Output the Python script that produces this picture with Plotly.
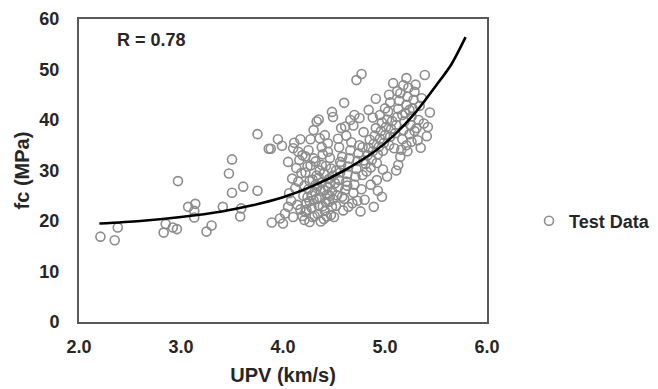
import plotly.graph_objects as go

# Test data (UPV km/s, fc MPa)
upv = [2.21,2.35,2.38,2.83,2.85,2.92,2.96,2.97,3.07,3.14,3.13,3.13,3.25,3.30,3.41,3.50,3.47,3.50,3.59,3.58,3.61,3.75,3.75,3.86,3.88,3.89,
       3.95,3.99,3.97,4.00,4.05,4.10,4.15,4.17,4.16,4.05,4.02,4.08,4.10,4.12,4.14,4.06,4.18,4.19,4.20,4.15,4.13,4.09,4.17,4.19,4.11,
       4.21,4.22,4.23,4.24,4.25,4.26,4.22,4.27,4.28,4.29,4.30,4.31,4.32,4.33,4.30,4.33,4.35,4.34,4.35,4.36,4.37,4.38,4.36,4.39,4.40,4.41,4.42,4.43,4.44,4.45,4.42,4.46,4.47,4.48,4.49,4.48,4.46,4.49,4.48,4.49,4.44,4.41,4.38,4.25,4.27,4.23,4.26,4.31,4.37,4.43,4.28,4.34,4.40,4.45,4.32,4.21,4.24,4.39,4.47,4.35,4.29,4.41,4.46,4.33,4.26,4.38,4.44,4.36,4.30,4.22,
       4.50,4.52,4.53,4.54,4.55,4.56,4.57,4.58,4.57,4.61,4.60,4.59,4.60,4.61,4.62,4.63,4.64,4.65,4.66,4.67,4.62,4.68,4.69,4.70,4.71,4.72,4.73,4.74,4.75,4.72,4.77,4.76,4.77,4.78,4.79,4.78,4.79,4.70,4.66,4.55,4.52,4.51,4.58,4.64,4.73,4.54,4.69,4.75,4.63,4.56,
       4.80,4.89,4.97,4.92,5.13,4.82,4.81,4.83,4.84,4.85,4.86,4.87,4.88,4.89,4.90,4.91,4.92,4.93,4.94,4.95,4.96,4.97,4.98,4.99,5.00,5.01,5.02,5.03,5.04,5.05,5.06,5.07,5.08,5.05,5.00,4.95,4.88,4.84,4.98,5.02,4.86,4.93,5.09,4.91,5.04,
       5.10,5.11,5.12,5.13,5.14,5.15,5.16,5.17,5.18,5.19,5.20,5.21,5.22,5.21,5.21,5.26,5.23,5.24,5.25,5.26,5.27,5.28,5.29,5.30,5.31,5.32,5.33,5.34,5.35,5.38,5.39,5.36,5.18,5.12,5.15,5.22,5.29,5.11,5.24,5.17,5.42,5.44,5.41]
fc = [16.9,16.2,18.7,17.7,19.4,18.7,18.4,27.9,22.8,23.4,20.7,22.0,17.9,19.1,22.8,32.2,29.4,25.6,22.5,20.9,26.8,37.2,26.0,34.3,34.3,19.7,
      36.2,34.9,20.5,19.5,31.7,34.4,33.7,36.2,32.1,22.8,21.5,24.0,20.8,26.5,23.2,25.5,29.5,21.0,25.0,27.8,30.5,28.4,22.3,33.0,35.5,
      20.2,21.8,23.5,24.7,26.3,27.9,29.6,31.0,22.6,20.8,24.1,25.8,27.2,29.0,32.4,39.7,40.1,21.4,23.0,24.6,26.0,27.6,30.0,33.2,20.4,22.0,23.7,25.2,26.8,28.3,30.9,32.5,21.2,22.8,24.3,25.9,27.4,29.0,41.6,40.6,35.4,37.0,34.6,34.0,36.2,22.2,19.8,21.0,19.9,20.9,25.1,26.9,29.4,23.8,31.8,27.0,30.8,22.9,30.4,28.6,28.2,26.1,25.0,24.4,23.9,31.1,33.7,36.4,38.0,32.8,
      20.8,23.0,25.1,26.7,28.1,29.6,31.2,32.7,38.4,38.7,43.4,22.1,24.4,26.2,27.8,29.3,30.8,32.4,34.0,35.6,36.9,23.5,25.6,27.2,28.8,30.3,31.9,33.4,35.0,47.9,49.1,21.9,26.3,29.1,32.0,34.6,37.6,41.0,40.0,34.6,30.0,27.5,24.8,22.8,24.0,36.3,38.9,40.4,27.0,31.7,
      24.2,22.8,24.8,28.1,31.1,29.8,31.3,33.0,34.5,36.1,30.6,32.1,33.8,35.3,36.9,38.4,31.5,33.2,34.7,36.3,37.8,39.5,33.9,35.5,37.0,38.6,40.1,41.7,35.0,36.7,38.2,39.8,47.3,43.5,42.3,41.0,40.5,42.0,30.2,28.8,27.2,26.0,34.4,44.2,45.0,
      37.4,39.0,40.6,42.2,43.8,45.3,34.1,36.2,38.0,39.7,41.4,43.0,44.6,48.3,35.0,35.7,46.4,37.2,39.0,40.7,42.3,44.0,45.6,47.0,38.4,36.0,40.0,42.8,34.5,39.3,48.9,44.3,46.9,45.7,32.7,33.8,37.8,30.0,42.0,41.0,38.6,41.5,36.8]

# Fitted curve points
curve_v = [2.20, 2.60, 3.00, 3.40, 3.70, 4.00, 4.30, 4.60, 4.90, 5.10, 5.30, 5.50, 5.65, 5.79]
curve_fc = [19.5, 20.0, 20.8, 21.9, 23.1, 24.7, 27.0, 30.0, 33.8, 37.2, 41.5, 46.8, 51.0, 56.4]

x_ticks = [2.0, 3.0, 4.0, 5.0, 6.0]
y_ticks = [0, 10, 20, 30, 40, 50, 60]

FONT = "Liberation Sans, Arial, sans-serif"
TXT = "#262626"

fig = go.Figure()
fig.add_trace(go.Scatter(
    x=upv, y=fc, mode="markers", name="Test Data",
    marker=dict(symbol="circle-open", size=9, color="#8c8c8c", line=dict(width=1.6, color="#8c8c8c")),
))
fig.add_trace(go.Scatter(
    x=curve_v, y=curve_fc, mode="lines", showlegend=False,
    line=dict(color="black", width=2.6, shape="spline", smoothing=0.8),
))

axis_common = dict(
    showgrid=False, zeroline=False, showline=True, linecolor="#595959", linewidth=2,
    mirror=True, ticks="", tickfont=dict(family=FONT, size=18, color=TXT, weight="bold"),
)
fig.update_xaxes(range=[2.0, 6.0], tickvals=x_ticks, ticktext=[f"{v:.1f}" for v in x_ticks],
                 ticklabelstandoff=7,
                 title=dict(text="UPV (km/s)", font=dict(family=FONT, size=20, color=TXT, weight="bold"), standoff=12),
                 **axis_common)
fig.update_yaxes(range=[0, 60], tickvals=y_ticks, ticklabelstandoff=14,
                 title=dict(text="fc (MPa)", font=dict(family=FONT, size=20, color=TXT, weight="bold"), standoff=4),
                 **axis_common)

fig.add_annotation(x=0.088, y=0.93, xref="paper", yref="paper", xanchor="left", yanchor="middle",
                   text="R = 0.78", showarrow=False,
                   font=dict(family=FONT, size=18, color=TXT, weight="bold"))

fig.update_layout(
    width=658, height=389,
    margin=dict(l=79, r=171, t=19, b=67, autoexpand=False),
    paper_bgcolor="white", plot_bgcolor="white",
    legend=dict(x=1.103, y=0.333, xanchor="left", yanchor="middle",
                font=dict(family=FONT, size=18, color=TXT, weight="bold"), bgcolor="rgba(0,0,0,0)"),
)

fig.write_html("out.html")
